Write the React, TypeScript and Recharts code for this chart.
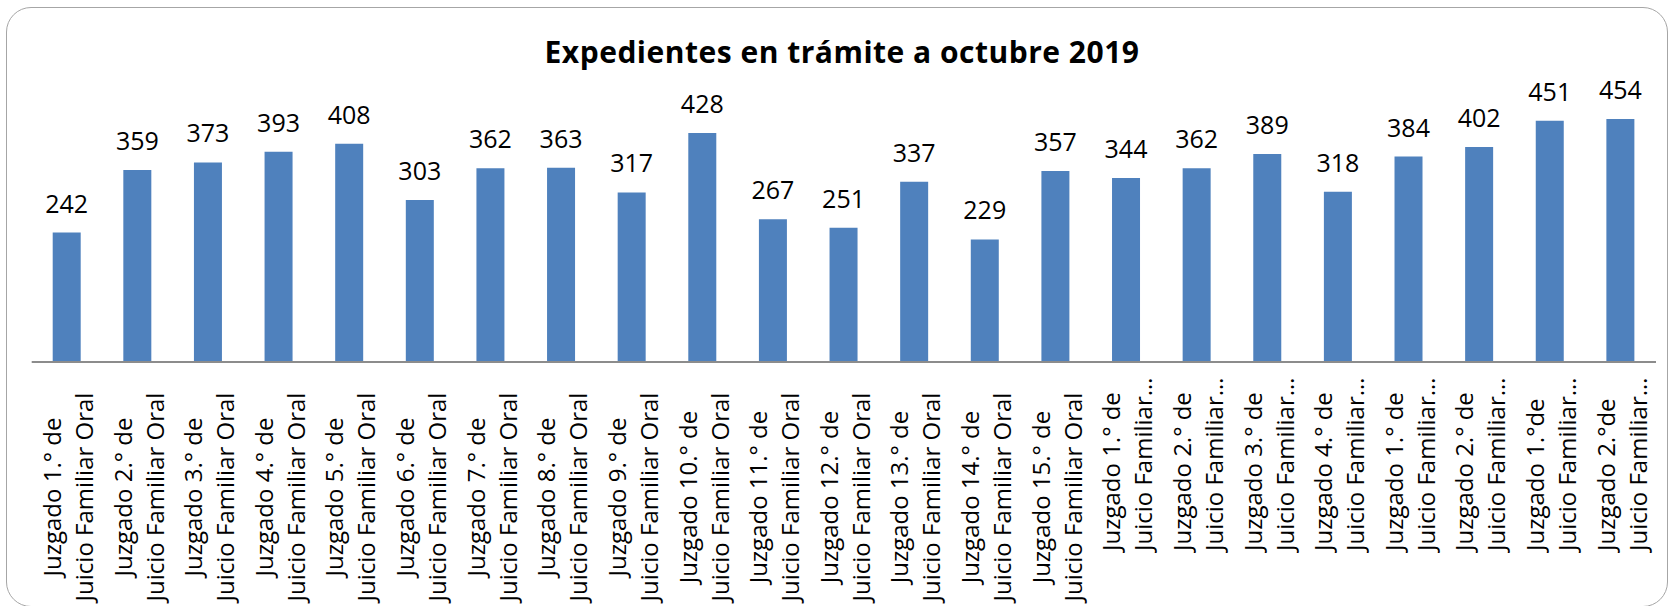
import { Bar, BarChart, LabelList, XAxis, YAxis } from "recharts";

const juzgados = [
  "Juzgado 1.° de", "Juzgado 2.° de", "Juzgado 3.° de", "Juzgado 4.° de", "Juzgado 5.° de",
  "Juzgado 6.° de", "Juzgado 7.° de", "Juzgado 8.° de", "Juzgado 9.° de", "Juzgado 10.° de",
  "Juzgado 11.° de", "Juzgado 12.° de", "Juzgado 13.° de", "Juzgado 14.° de", "Juzgado 15.° de",
  "Juzgado 1.° de", "Juzgado 2.° de", "Juzgado 3.° de", "Juzgado 4.° de",
  "Juzgado 1.° de", "Juzgado 2.° de", "Juzgado 1.°de", "Juzgado 2.°de",
];
const materias = [
  ...Array(15).fill("Juicio Familiar Oral"),
  ...Array(8).fill("Juicio Familiar…"),
];
const expedientes = [242, 359, 373, 393, 408, 303, 362, 363, 317, 428, 267, 251, 337, 229, 357, 344, 362, 389, 318, 384, 402, 451, 454];

const FONT = "'Open Sans', sans-serif";

const data = expedientes.map((value, i) => ({ id: i, value }));

// two-line rotated label; the cut-off ones start at the bottom like Excel does
function CategoryTick({ x, y, payload }: any) {
  const i = payload.index;
  const truncated = materias[i].endsWith("…");
  const cy = truncated ? y + 181 : y + 127;
  const anchor = truncated ? "start" : "middle";
  return (
    <text x={x} y={cy} transform={`rotate(-90 ${x} ${cy})`} textAnchor={anchor} fontFamily={FONT} fontSize={24} fill="#000">
      <tspan x={x} y={cy - 6}>{juzgados[i]}</tspan>
      <tspan x={x} y={cy + 26}>{materias[i]}</tspan>
    </text>
  );
}

export default function App() {
  return (
    <div style={{ position: "fixed", left: 0, top: 0, width: 1673, height: 606, background: "#fff", overflow: "hidden" }}>
      <div style={{ position: "absolute", left: 6, top: 6.5, width: 1662, height: 600, border: "1.5px solid #a6a6a6", borderRadius: 25, boxSizing: "border-box" }} />
      <div style={{ position: "absolute", left: 0, top: 36.5, width: 1684, textAlign: "center", fontFamily: FONT, fontWeight: 700, fontSize: 30, letterSpacing: 0.5, lineHeight: 1, color: "#000" }}>
        Expedientes en trámite a octubre 2019
      </div>
      <div style={{ position: "absolute", left: 0, top: 0 }}>
        <BarChart width={1673} height={606} data={data} margin={{ top: 94.5, right: 17, bottom: 0, left: 31.7 }} barCategoryGap={0}>
          <XAxis dataKey="id" interval={0} height={244} tickLine={false} axisLine={{ stroke: "#8c8c8c", strokeWidth: 2 }} tick={<CategoryTick />} />
          <YAxis hide domain={[0, 500]} />
          <Bar dataKey="value" fill="#4f81bd" barSize={28} isAnimationActive={false}>
            <LabelList dataKey="value" position="top" offset={20} fill="#000" fontFamily={FONT} fontSize={25} />
          </Bar>
        </BarChart>
      </div>
    </div>
  );
}
